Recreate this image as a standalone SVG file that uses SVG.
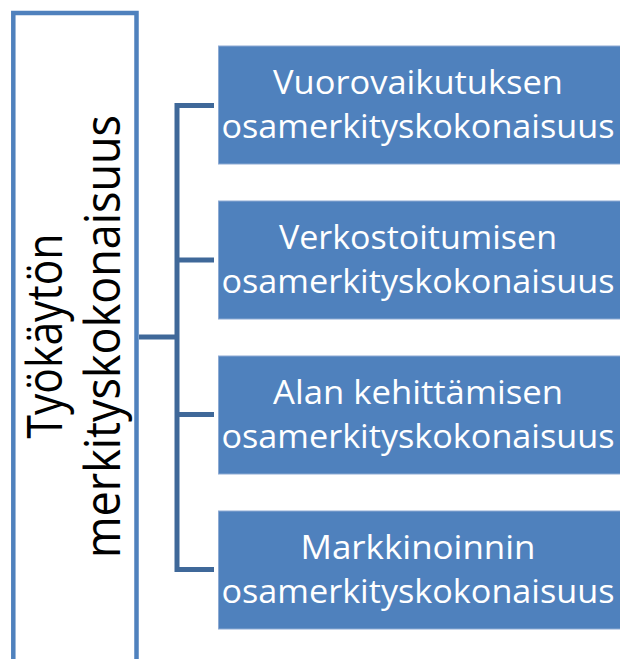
<svg xmlns="http://www.w3.org/2000/svg" width="620" height="659" viewBox="0 0 620 659">
<style>
.box{fill:#4F81BD;stroke:#8DAAD3;stroke-width:1}
.bt{font-family:"Open Sans","Liberation Sans",sans-serif;font-size:33px;fill:#FFFFFF;text-anchor:middle}
.rt{font-family:"Open Sans","Liberation Sans",sans-serif;font-size:50px;fill:#000000;text-anchor:middle}
.conn{fill:none;stroke:#3F6899;stroke-width:5;stroke-linejoin:miter;stroke-linecap:butt}
</style>
<rect width="620" height="659" fill="#FFFFFF"/>
<g id="root">
<rect x="13.3" y="13" width="123.2" height="700" fill="#FFFFFF" stroke="#4F81BD" stroke-width="4.5"/>
<g transform="translate(62,336) rotate(-90)"><text class="rt" x="0" y="0" textLength="205" lengthAdjust="spacingAndGlyphs">Työkäytön</text></g>
<g transform="translate(120,336.5) rotate(-90)"><text class="rt" x="0" y="0" textLength="443" lengthAdjust="spacingAndGlyphs">merkityskokonaisuus</text></g>
</g>
<g id="connectors">
<path class="conn" d="M214 105.5 H177 V569.5 H214"/>
<path class="conn" d="M177 260 H214"/>
<path class="conn" d="M177 414.5 H214"/>
<path class="conn" d="M139 337 H177"/>
</g>
<g id="node1">
<rect class="box" x="218.5" y="46" width="402" height="118"/>
<text class="bt" x="418" y="94" textLength="290" lengthAdjust="spacingAndGlyphs">Vuorovaikutuksen</text>
<text class="bt" x="418" y="138" textLength="393" lengthAdjust="spacingAndGlyphs">osamerkityskokonaisuus</text>
</g>
<g id="node2">
<rect class="box" x="218.5" y="201" width="402" height="118"/>
<text class="bt" x="418" y="249" textLength="278" lengthAdjust="spacingAndGlyphs">Verkostoitumisen</text>
<text class="bt" x="418" y="293" textLength="393" lengthAdjust="spacingAndGlyphs">osamerkityskokonaisuus</text>
</g>
<g id="node3">
<rect class="box" x="218.5" y="356" width="402" height="118"/>
<text class="bt" x="418" y="404" textLength="290" lengthAdjust="spacingAndGlyphs">Alan kehittämisen</text>
<text class="bt" x="418" y="448" textLength="393" lengthAdjust="spacingAndGlyphs">osamerkityskokonaisuus</text>
</g>
<g id="node4">
<rect class="box" x="218.5" y="511" width="402" height="118"/>
<text class="bt" x="418" y="559" textLength="235" lengthAdjust="spacingAndGlyphs">Markkinoinnin</text>
<text class="bt" x="418" y="603" textLength="393" lengthAdjust="spacingAndGlyphs">osamerkityskokonaisuus</text>
</g>
</svg>
